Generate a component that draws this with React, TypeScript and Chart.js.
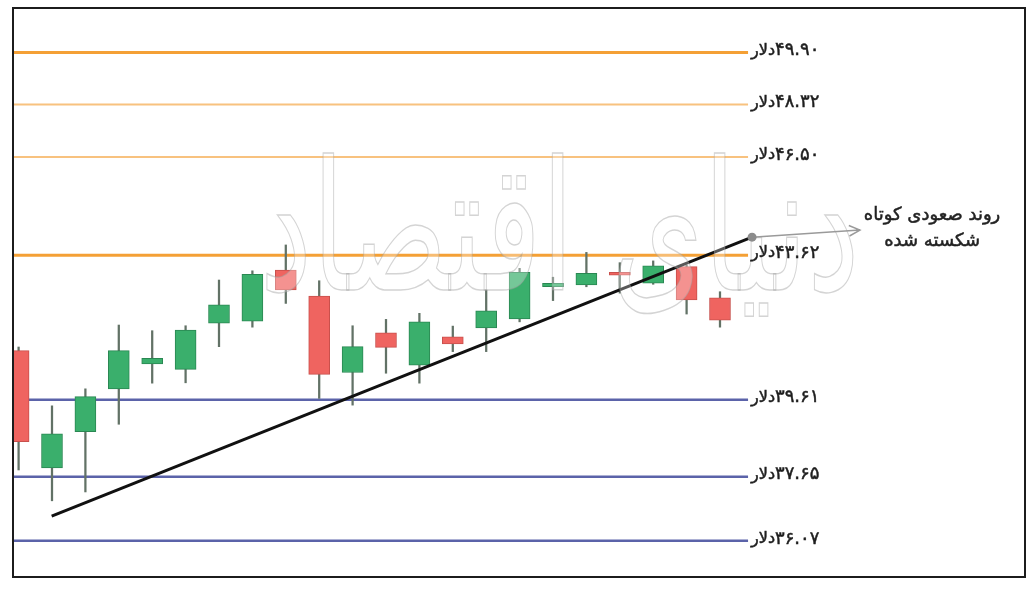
import React, { useEffect, useRef } from "react";
import { Chart, registerables } from "chart.js";

Chart.register(...registerables);

// ---- Candles (index along the x axis, prices on an illustrative scale) ----
const candleIndex = [0, 1, 2, 3, 4, 5, 6, 7, 8, 9, 10, 11, 12, 13, 14, 15, 16, 17, 18, 19, 20, 21];
const opens = [41.39, 38.08, 39.1, 40.31, 41.01, 40.86, 42.16, 42.22, 43.66, 42.93, 40.77, 41.89, 40.98, 41.78, 42.03, 42.28, 43.19, 43.24, 43.6, 43.29, 43.76, 42.88];
const closes = [38.82, 39.04, 40.09, 41.39, 41.17, 41.97, 42.68, 43.54, 43.1, 40.72, 41.5, 41.48, 42.2, 41.58, 42.51, 43.6, 43.29, 43.57, 43.52, 43.78, 42.82, 42.25];
const highs = [41.49, 39.83, 40.31, 42.11, 41.95, 42.09, 43.38, 43.64, 44.37, 43.36, 42.09, 42.27, 42.44, 42.08, 43.1, 43.71, 43.46, 44.16, 43.87, 43.92, 43.8, 43.05];
const lows = [38.02, 37.15, 37.4, 39.31, 40.47, 40.48, 41.5, 42.05, 42.72, 40.04, 39.85, 40.75, 40.47, 41.36, 41.36, 42.2, 42.8, 43.19, 43.01, 43.26, 42.42, 42.05];

// ---- Horizontal levels (drawn position on the chart scale + printed label) ----
const levelPositions = [49.8, 48.33, 46.85, 44.08, 40.0, 37.83, 36.02];
const levelLabels = ["۴۹.۹۰", "۴۸.۳۲", "۴۶.۵۰", "۴۳.۶۲", "۳۹.۶۱", "۳۷.۶۵", "۳۶.۰۷"];
const currencyWord = "دلار";
const levelKinds = ["major", "minor", "minor", "major", "support", "support", "support"];

// ---- Trend line and annotation ----
const trendX = [0.99, 21.96];
const trendY = [36.72, 44.59];
const arrowEnd = { x: 25.19, y: 44.79 };
const noteAnchor = { x: 27.35, y: 45.2 };
const noteLines = ["روند صعودی کوتاه", "شکسته شده"];
const watermarkText = "دنیای اقتصاد";
const watermarkAnchor = { x: 16.2, y: 43.1 };

// ---- Axis extents ----
const xMin = -0.1377;
const xMax = 30.102;
const levelEndX = 21.84;
const yMin = 35;
const yMax = 51;

const UP = "#3aaf6c";
const UP_BORDER = "#2a8752";
const DOWN = "#ef6460";
const DOWN_BORDER = "#c8504c";
const WICK = "#627266";
const levelStyle: Record<string, { color: string; width: number }> = {
  major: { color: "#f4a035", width: 3 },
  minor: { color: "#f8c27f", width: 2 },
  support: { color: "#5b63a9", width: 2.5 },
};

function boldText(ctx: CanvasRenderingContext2D, t: string, x: number, y: number) {
  ctx.fillText(t, x, y);
  ctx.strokeText(t, x, y);
}

const overlayPlugin = {
  id: "overlay",
  afterDatasetsDraw(chart: any) {
    const { ctx } = chart;
    const xs = chart.scales.x;
    const ys = chart.scales.y;

    // watermark (outlined, translucent)
    ctx.save();
    ctx.font = '150px "DejaVu Sans"';
    const wm = ctx.measureText(watermarkText).width;
    const cx = xs.getPixelForValue(watermarkAnchor.x);
    const by = ys.getPixelForValue(watermarkAnchor.y);
    ctx.translate(cx, by);
    ctx.scale(600 / wm, 1.2);
    ctx.textAlign = "center";
    ctx.textBaseline = "alphabetic";
    ctx.fillStyle = "rgba(255,255,255,0.3)";
    ctx.fillText(watermarkText, 0, 0);
    ctx.lineWidth = 1.2;
    ctx.strokeStyle = "rgba(160,160,160,0.45)";
    ctx.strokeText(watermarkText, 0, 0);
    ctx.restore();

    ctx.save();
    // level labels
    ctx.fillStyle = "#1e1e1e";
    ctx.strokeStyle = "#1e1e1e";
    ctx.lineWidth = 0.5;
    ctx.textBaseline = "middle";
    ctx.textAlign = "left";
    levelPositions.forEach((v, k) => {
      const px = xs.getPixelForValue(levelEndX) + 3;
      const py = ys.getPixelForValue(v) - 2;
      ctx.font = '16px "DejaVu Sans"';
      boldText(ctx, currencyWord, px, py);
      const w = ctx.measureText(currencyWord).width;
      ctx.font = '18px "DejaVu Sans"';
      boldText(ctx, levelLabels[k], px + w, py);
    });

    // arrow from the trend end
    const sx = xs.getPixelForValue(trendX[1]);
    const sy = ys.getPixelForValue(trendY[1]);
    const ex = xs.getPixelForValue(arrowEnd.x);
    const ey = ys.getPixelForValue(arrowEnd.y);
    ctx.strokeStyle = "#9a9a9a";
    ctx.lineWidth = 1.5;
    ctx.beginPath();
    ctx.moveTo(sx, sy);
    ctx.lineTo(ex, ey);
    const ang = Math.atan2(ey - sy, ex - sx);
    ctx.moveTo(ex - 12 * Math.cos(ang - 0.45), ey - 12 * Math.sin(ang - 0.45));
    ctx.lineTo(ex, ey);
    ctx.lineTo(ex - 12 * Math.cos(ang + 0.45), ey - 12 * Math.sin(ang + 0.45));
    ctx.stroke();
    ctx.fillStyle = "#8c8c8c";
    ctx.beginPath();
    ctx.arc(sx, sy, 4.5, 0, Math.PI * 2);
    ctx.fill();

    // note text
    ctx.fillStyle = "#222";
    ctx.strokeStyle = "#222";
    ctx.lineWidth = 0.5;
    ctx.font = '18px "DejaVu Sans"';
    ctx.textAlign = "center";
    const nx = xs.getPixelForValue(noteAnchor.x);
    const ny = ys.getPixelForValue(noteAnchor.y);
    noteLines.forEach((t, k) => boldText(ctx, t, nx, ny + k * 26));
    ctx.restore();
  },
  afterDraw(chart: any) {
    const { ctx, chartArea } = chart;
    ctx.save();
    ctx.strokeStyle = "#1c1c1c";
    ctx.lineWidth = 2;
    ctx.strokeRect(chartArea.left - 1, chartArea.top - 2, chartArea.right - chartArea.left + 2, chartArea.bottom - chartArea.top + 2);
    ctx.restore();
  },
};

export default function App() {
  const ref = useRef<HTMLCanvasElement>(null);

  useEffect(() => {
    if (!ref.current) return;
    const bodyColors = candleIndex.map((i) => (closes[i] >= opens[i] ? UP : DOWN));
    const bodyBorders = candleIndex.map((i) => (closes[i] >= opens[i] ? UP_BORDER : DOWN_BORDER));

    const levelSets = levelPositions.map((v, k) => ({
      type: "line" as const,
      label: levelLabels[k],
      data: [
        { x: xMin, y: v },
        { x: levelEndX, y: v },
      ],
      borderColor: levelStyle[levelKinds[k]].color,
      borderWidth: levelStyle[levelKinds[k]].width,
      pointRadius: 0,
      order: 5,
    }));

    const chart = new Chart(ref.current, {
      type: "bar",
      data: {
        datasets: [
          {
            type: "bar" as const,
            label: "body",
            data: candleIndex.map((i) => ({ x: i, y: [opens[i], closes[i]] })) as any,
            backgroundColor: bodyColors,
            borderColor: bodyBorders,
            borderWidth: 1,
            borderSkipped: false,
            barThickness: 21,
            grouped: false,
            order: 1,
          },
          {
            type: "bar" as const,
            label: "wick",
            data: candleIndex.map((i) => ({ x: i, y: [lows[i], highs[i]] })) as any,
            backgroundColor: WICK,
            borderWidth: 0,
            barThickness: 1.6,
            grouped: false,
            order: 2,
          },
          ...(levelSets as any[]),
          {
            type: "line" as const,
            label: "trend",
            data: trendX.map((x, k) => ({ x, y: trendY[k] })),
            borderColor: "#111",
            borderWidth: 3,
            pointRadius: 0,
            order: 0,
          } as any,
        ],
      },
      options: {
        responsive: false,
        animation: false,
        events: [],
        layout: { padding: { left: 14, top: 10, right: 11, bottom: 13 } },
        plugins: { legend: { display: false }, tooltip: { enabled: false } },
        scales: {
          x: { type: "linear", min: xMin, max: xMax, offset: false, display: false },
          y: { type: "linear", min: yMin, max: yMax, display: false },
        },
      },
      plugins: [overlayPlugin],
    });
    return () => chart.destroy();
  }, []);

  return (
    <div style={{ position: "absolute", left: 0, top: 0, width: 1035, height: 590, background: "#fff" }}>
      <canvas ref={ref} width={1035} height={590} />
    </div>
  );
}
